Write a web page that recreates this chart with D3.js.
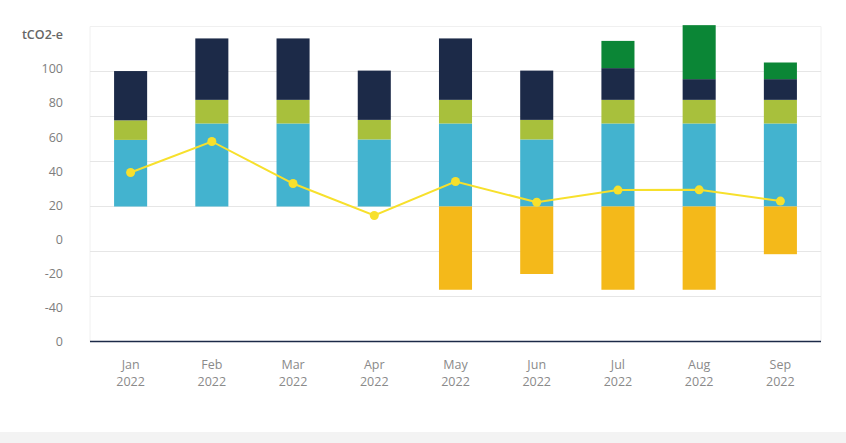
<!DOCTYPE html>
<html>
<head>
<meta charset="utf-8">
<script src="https://cdn.jsdelivr.net/npm/d3@7"></script>
<style>
  html, body { margin: 0; padding: 0; background: #fff; }
  svg { display: block; }
  text { font-family: "Open Sans", "Noto Sans", sans-serif; }
</style>
</head>
<body>
<svg id="chart" width="846" height="443"></svg>
<script>
// ---- data ----
const months = ["Jan", "Feb", "Mar", "Apr", "May", "Jun", "Jul", "Aug", "Sep"];
const yearLabel = "2022";
const blueSeries = [29.6, 36.9, 36.9, 29.8, 36.9, 29.8, 36.9, 36.9, 36.9];
const limeSeries = [8.7, 10.5, 10.5, 8.7, 10.5, 8.7, 10.5, 10.5, 10.5];
const navySeries = [21.9, 27.3, 27.3, 21.9, 27.3, 21.9, 14.1, 9.2, 9.2];
const darkGreenSeries = [0, 0, 0, 0, 0, 0, 12.1, 24.0, 7.4];
const yellowSeries = [0, 0, 0, 0, -37.0, -30.0, -37.0, -37.0, -21.2];
const lineSeries = [15.1, 28.9, 10.2, -4.0, 11.1, 1.9, 7.3, 7.4, 2.4];
const gridValues = [80, 60, 40, 20, 0, -20, -40];
const yTickLabels = ["100", "80", "60", "40", "20", "0", "-20", "-40", "0"];
const unitLabel = "tCO2-e";

// ---- layout ----
const svg = d3.select("#chart");
const W = 846, H = 443;
const plot = { left: 90, right: 821, top: 26.5, bottom: 341.5 };

svg.append("rect").attr("x", 0).attr("y", 432).attr("width", W).attr("height", H - 432).attr("fill", "#f3f3f3");

const x = d3.scaleBand().domain(months).range([plot.left, plot.right]).paddingInner(0.593).paddingOuter(0.2965);
const y = d3.scaleLinear().domain([-60, 80]).range([plot.bottom, plot.top]);
const yLab = d3.scalePoint().domain(d3.range(yTickLabels.length)).range([69, 341.5]);

// plot border (faint)
svg.append("path")
  .attr("d", `M${plot.left},${plot.bottom} L${plot.left},${y(80)} L${plot.right},${y(80)} L${plot.right},${plot.bottom}`)
  .attr("fill", "none").attr("stroke", "#f0f0f0").attr("stroke-width", 1);

// gridlines
svg.append("g").selectAll("line").data(gridValues.filter(v => v !== 80)).join("line")
  .attr("x1", plot.left).attr("x2", plot.right)
  .attr("y1", d => y(d)).attr("y2", d => y(d))
  .attr("stroke", "#e6e6e6").attr("stroke-width", 1.2);

// stacked positive bars
const stackKeys = ["blue", "lime", "navy", "dg"];
const colors = { blue: "#43b3cf", lime: "#a8c03c", navy: "#1c2a48", dg: "#0b8636", yellow: "#f4b91a" };
const rows = months.map((m, i) => ({ month: m, blue: blueSeries[i], lime: limeSeries[i], navy: navySeries[i], dg: darkGreenSeries[i] }));
const stacked = d3.stack().keys(stackKeys)(rows);

const barsG = svg.append("g");
stacked.forEach(layer => {
  barsG.append("g").attr("fill", colors[layer.key])
    .selectAll("rect").data(layer).join("rect")
    .attr("x", d => x(d.data.month))
    .attr("width", x.bandwidth())
    .attr("y", d => y(d[1]))
    .attr("height", d => Math.max(0, y(d[0]) - y(d[1])));
});

// negative bars
barsG.append("g").attr("fill", colors.yellow)
  .selectAll("rect").data(yellowSeries.map((v, i) => ({ month: months[i], v })).filter(d => d.v < 0)).join("rect")
  .attr("x", d => x(d.month))
  .attr("width", x.bandwidth())
  .attr("y", y(0))
  .attr("height", d => y(d.v) - y(0));

// x axis line
svg.append("line")
  .attr("x1", plot.left).attr("x2", plot.right)
  .attr("y1", plot.bottom).attr("y2", plot.bottom)
  .attr("stroke", "#1c2a48").attr("stroke-width", 1.5);

// line series
const lineData = lineSeries.map((v, i) => ({ month: months[i], v }));
const lineGen = d3.line().x(d => x(d.month) + x.bandwidth() / 2).y(d => y(d.v));
svg.append("path").datum(lineData)
  .attr("d", lineGen).attr("fill", "none")
  .attr("stroke", "#f7e02c").attr("stroke-width", 2);
svg.append("g").selectAll("circle").data(lineData).join("circle")
  .attr("cx", d => x(d.month) + x.bandwidth() / 2)
  .attr("cy", d => y(d.v))
  .attr("r", 4.5)
  .attr("fill", "#f7e02c");

// y labels
svg.append("text").attr("x", 63).attr("y", 35).attr("dy", "0.35em")
  .attr("text-anchor", "end").attr("font-size", 12.5).attr("font-weight", 600)
  .attr("fill", "#666").text(unitLabel);
svg.append("g").selectAll("text").data(yTickLabels).join("text")
  .attr("x", 63).attr("y", (d, i) => yLab(i)).attr("dy", "0.35em")
  .attr("text-anchor", "end").attr("font-size", 12.5)
  .attr("fill", "#7d7d7d").text(d => d);

// x labels
const xl = svg.append("g").selectAll("text").data(months).join("text")
  .attr("text-anchor", "middle").attr("font-size", 12.5).attr("fill", "#8a8a8a");
xl.append("tspan").attr("x", d => x(d) + x.bandwidth() / 2).attr("y", 369).text(d => d);
xl.append("tspan").attr("x", d => x(d) + x.bandwidth() / 2).attr("y", 386).text(yearLabel);
</script>
</body>
</html>
